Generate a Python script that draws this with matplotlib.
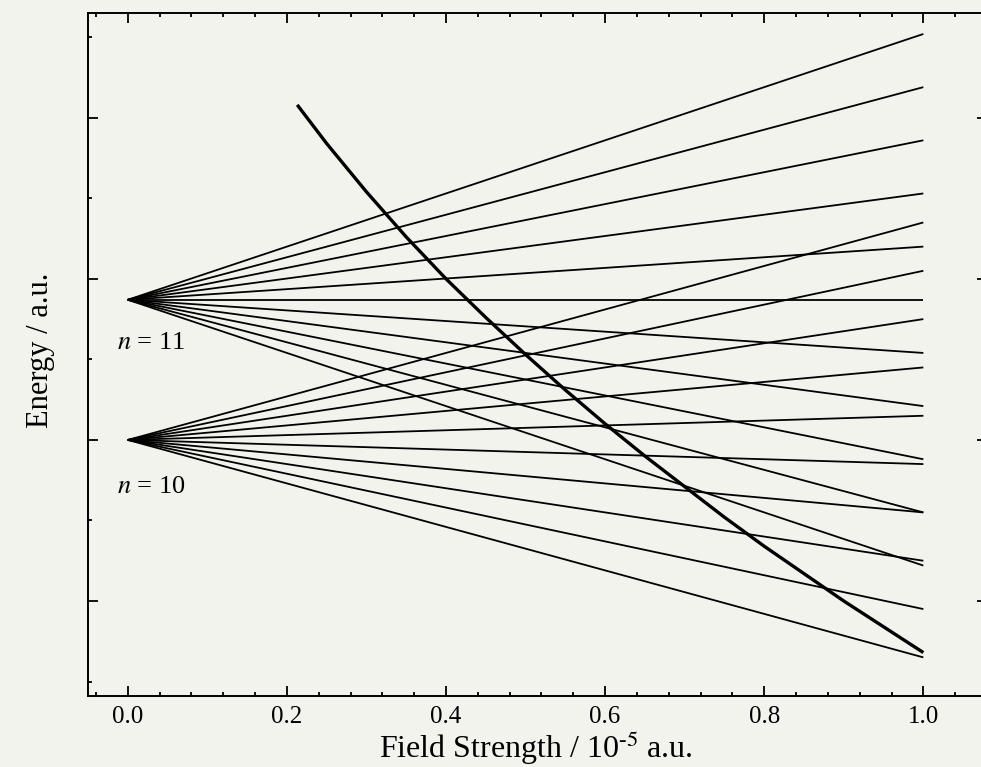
import matplotlib.pyplot as plt
from matplotlib.ticker import MultipleLocator

# 能级 (单位 10^-3 a.u.), 场强 0 和 1.0 处的读数
field = [0.0, 1.0]
level_n11 = -4.13
level_n10 = -5.00
end_n11 = [-2.48, -2.81, -3.14, -3.47, -3.80, -4.13, -4.46, -4.79, -5.12, -5.45, -5.78]
end_n10 = [-3.65, -3.95, -4.25, -4.55, -4.85, -5.15, -5.45, -5.75, -6.05, -6.35]

# 经典电离极限曲线读数
limit_x = [0.213, 0.25, 0.30, 0.35, 0.40, 0.45, 0.50, 0.55, 0.60, 0.65,
           0.70, 0.75, 0.80, 0.85, 0.90, 0.95, 1.00]
limit_e = [-2.92, -3.16, -3.46, -3.74, -4.00, -4.24, -4.47, -4.69, -4.90, -5.10,
           -5.29, -5.48, -5.66, -5.83, -6.00, -6.16, -6.32]

plt.rcParams['font.family'] = ['Liberation Serif', 'DejaVu Serif']
plt.rcParams['mathtext.fontset'] = 'stix'

bg = '#f3f3ee'
fig = plt.figure(figsize=(9.81, 7.67), dpi=100, facecolor=bg)
ax = fig.add_axes([0.0897, 0.0925, 0.9164, 0.8905], facecolor=bg)

for e in end_n11:
    ax.plot(field, [level_n11, e], color='black', lw=1.3, solid_capstyle='butt')
for e in end_n10:
    ax.plot(field, [level_n10, e], color='black', lw=1.3, solid_capstyle='butt')

ax.plot(limit_x, limit_e, color='black', lw=2.4, solid_capstyle='butt')

ax.text(-0.013, -4.40, r'$n$ = 11', fontsize=19, ha='left', va='center')
ax.text(-0.013, -5.29, r'$n$ = 10', fontsize=19, ha='left', va='center')

ax.set_xlim(-0.05, 1.08)
ax.set_ylim(-6.59, -2.35)
ax.xaxis.set_major_locator(MultipleLocator(0.2))
ax.xaxis.set_minor_locator(MultipleLocator(0.04))
ax.yaxis.set_major_locator(MultipleLocator(1.0))
ax.yaxis.set_minor_locator(MultipleLocator(0.5))
ax.tick_params(which='both', direction='in', top=True, right=True, width=1.3,
               labelsize=18, pad=7)
ax.tick_params(which='major', length=7)
ax.tick_params(which='minor', length=3)
ax.set_yticklabels([])
ax.xaxis.set_major_formatter(plt.FormatStrFormatter('%.1f'))
for s in ax.spines.values():
    s.set_linewidth(1.4)

fig.text(536 / 981, 1 - 758 / 767, 'Field Strength / 10$^{\\mathregular{\u2010}5}$ a.u.',
         fontsize=23, ha='center', va='baseline')
fig.text(41 / 981, 1 - 350 / 767, 'Energy / a.u.', fontsize=22, rotation=90,
         ha='center', va='center')

plt.savefig("out.png", dpi=100, facecolor=bg)
